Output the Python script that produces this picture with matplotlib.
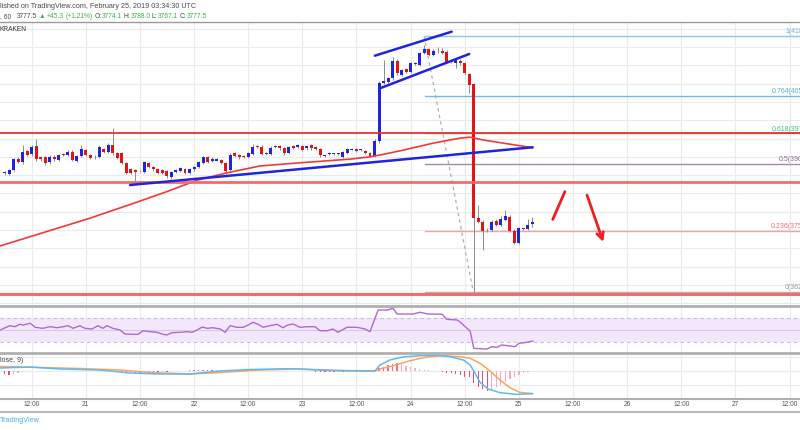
import matplotlib
matplotlib.use('Agg')
import matplotlib.pyplot as plt
from matplotlib.lines import Line2D
from matplotlib.transforms import blended_transform_factory
import numpy as np

plt.rcParams['font.family'] = ['Liberation Sans', 'DejaVu Sans']

# ---------------- data (hours relative to 21 Feb 2019 00:00 UTC, 60-min candles) ----------------
first_hour = -18
opens = [3885, 3883, 3891, 3915, 3909, 3933, 3926, 3944, 3920, 3920,
         3909, 3920, 3913, 3926, 3924, 3931, 3911, 3922, 3935, 3924,
         3920, 3920, 3937, 3931, 3946, 3928, 3928, 3907, 3894, 3891,
         3889, 3887, 3907, 3898, 3893, 3891, 3889, 3876, 3887, 3889,
         3893, 3885, 3893, 3898, 3907, 3919, 3912, 3912, 3913, 3907,
         3891, 3928, 3924, 3922, 3920, 3926, 3944, 3942, 3927, 3926,
         3942, 3944, 3939, 3929, 3944, 3941, 3944, 3939, 3945, 3942,
         3938, 3922, 3927, 3926, 3926, 3920, 3929, 3936, 3937, 3935,
         3933, 3929, 3922, 3954, 4082, 4084, 4092, 4130, 4099, 4112,
         4106, 4124, 4121, 4147, 4155, 4143, 4152, 4152, 4150, 4128,
         4126, 4130, 4125, 4101, 4079, 3786, 3778, 3759, 3760, 3780,
         3771, 3782, 3789, 3758, 3732, 3763, 3762, 3774.1]
closes = [3886, 3891, 3915, 3909, 3931, 3924, 3942, 3915, 3915, 3907,
          3920, 3915, 3924, 3924, 3931, 3913, 3922, 3938, 3924, 3918,
          3919, 3942, 3931, 3946, 3928, 3918, 3907, 3885, 3885, 3887,
          3888, 3909, 3898, 3893, 3885, 3885, 3878, 3887, 3891, 3896,
          3885, 3893, 3898, 3909, 3919, 3909, 3916, 3916, 3907, 3890,
          3925, 3922, 3919, 3919, 3928, 3942, 3941, 3926, 3928, 3939,
          3943, 3939, 3928, 3941, 3939, 3947, 3935, 3944, 3939, 3938,
          3925, 3923, 3928, 3927, 3926, 3931, 3938, 3937, 3933, 3935,
          3929, 3922, 3954, 4081, 4087, 4092, 4130, 4103, 4110, 4106,
          4125, 4125, 4147, 4155, 4143, 4152, 4151, 4148, 4128, 4132,
          4133, 4125, 4103, 4077, 3787, 3778, 3758, 3760, 3778, 3771,
          3783, 3791, 3758, 3732, 3764, 3762, 3771, 3777.5]
highs = [3888, 3893, 3918, 3920, 3946, 3936, 3945, 3959, 3922, 3922,
         3924, 3923, 3927, 3929, 3934, 3934, 3925, 3946, 3938, 3927,
         3923, 3945, 3940, 3950, 3983, 3931, 3930, 3909, 3896, 3893,
         3891, 3911, 3909, 3900, 3895, 3893, 3891, 3889, 3893, 3898,
         3895, 3895, 3901, 3911, 3922, 3922, 3919, 3918, 3916, 3909,
         3928, 3931, 3927, 3924, 3931, 3948, 3947, 3946, 3931, 3943,
         3946, 3947, 3941, 3944, 3947, 3949, 3947, 3946, 3948, 3944,
         3940, 3925, 3930, 3929, 3929, 3933, 3940, 3940, 3939, 3938,
         3936, 3931, 3958, 4085, 4132, 4095, 4138, 4133, 4113, 4114,
         4128, 4128, 4150, 4165, 4158, 4155, 4160, 4158, 4153, 4135,
         4136, 4133, 4127, 4104, 4082, 3815, 3781, 3765, 3782, 3783,
         3791, 3804, 3792, 3762, 3766, 3765, 3784, 3788.0]
lows = [3880, 3881, 3889, 3906, 3905, 3921, 3922, 3912, 3911, 3903,
        3905, 3912, 3910, 3921, 3921, 3910, 3908, 3919, 3921, 3915,
        3916, 3917, 3928, 3928, 3925, 3915, 3904, 3882, 3882, 3863,
        3886, 3884, 3895, 3890, 3882, 3882, 3874, 3872, 3885, 3887,
        3882, 3883, 3890, 3896, 3905, 3906, 3909, 3910, 3904, 3882,
        3888, 3919, 3916, 3917, 3918, 3924, 3939, 3924, 3924, 3924,
        3939, 3936, 3925, 3927, 3937, 3939, 3932, 3936, 3936, 3935,
        3920, 3919, 3925, 3924, 3924, 3917, 3927, 3934, 3931, 3932,
        3927, 3920, 3919, 3950, 4080, 4082, 4088, 4100, 4096, 4103,
        4103, 4121, 4118, 4144, 4140, 4140, 4148, 4145, 4125, 4125,
        4115, 4122, 4100, 4060, 3625, 3775, 3716, 3755, 3757, 3768,
        3768, 3779, 3755, 3730, 3730, 3760, 3759, 3767.1]

# moving average (red curve) read at sample hours
ma_hours = [-19, 1, 10.5, 18, 24.7, 31.3, 38.6, 47.5, 58.6, 63, 65.2, 69.6, 77, 83, 85.2, 88, 99]
ma_vals = [3725, 3786, 3818, 3844, 3869, 3885, 3900, 3907, 3915, 3920, 3924, 3933, 3950, 3961, 3963, 3957, 3940]

# horizontal support / resistance levels
red_levels = [3971.5, 3864, 3620]

# fibonacci retracement
fib_start_hour = 75.2
fib_ratios = [1, 0.764, 0.618, 0.5, 0.236, 0]
fib_prices = [4185.0, 4052.8, 3971.1, 3905.0, 3757.2, 3625.0]
fib_labels = ['1(4185.0)', '0.764(4052.8)', '0.618(3971.1)', '0.5(3905.0)', '0.236(3757.2)', '0(3625.0)']
fib_line_colors = ['#86c8ec', '#6cbde9', '#5cc48a', '#a48aa4', '#f3a3a8', '#b4b4b4']
fib_text_colors = ['#6ab4e0', '#5aaedf', '#3fbf78', '#8c6e8c', '#ee6f78', '#9a9a9a']
fib_diag_hours = [75.0, 85.8]
fib_diag_prices = [4184, 3629]

# trend lines (blue)
trend_lines = [([9.84, 99.05], [3858.4, 3940.9]),
               ([64.09, 81.1], [4141.3, 4193.8]),
               ([65.2, 85.0], [4069.9, 4145.0])]

# red arrows
up_stroke = ([103.5, 106.2], [3783, 3844])
down_arrow = ([110.9, 114.9], [3842, 3728])

# RSI (14)
rsi_hours = [-19, -16.8, -15.7, -14.6, -13.9, -12.3, -11.2, -9.5, -7.9, -6.4, -5, -3.9, -2.8, -1.3,
             -0.2, 1.4, 2.7, 3.8, 4.7, 6, 7.6, 8.7, 10.3, 11.6, 12.7, 14.2, 15.8, 17.1, 18, 19.1,
             20.9, 22.4, 23.6, 24.7, 25.8, 26.9, 28.2, 29.8, 30.9, 32, 33.5, 34.9, 36, 37.1, 38.2,
             39.3, 40.8, 42.4, 43.7, 44.8, 45.9, 47.5, 49, 50.8, 51.9, 53.5, 54.8, 55.9, 57.9, 60.1,
             61.9, 63, 64.8, 66.8, 68.1, 69, 72.5, 74.1, 75.8, 79, 80, 82.3, 82.9, 84.5, 85.2, 86,
             88.9, 90, 91.1, 92.2, 93.6, 95.1, 96, 97.8, 99.1]
rsi_vals = [50.5, 57.7, 56, 60, 58.8, 61.7, 55, 53.3, 56, 54.3, 56, 57.7, 53.3, 57.7,
            53.3, 52.2, 57.7, 53.3, 57.7, 53.3, 50.5, 43.8, 43.3, 43.3, 49.3, 47.7, 46.7, 43.3, 42.2, 46,
            46.7, 47.7, 46.7, 50.5, 55.5, 53.3, 54.3, 52.2, 46.7, 57.7, 55, 55, 58.8, 63.3, 60,
            55, 57.7, 60, 54.3, 58.8, 60.5, 55, 56, 56, 49.3, 49.3, 52.2, 46.7, 55, 55,
            52.2, 47.7, 83.8, 83.8, 86.7, 77.2, 77.2, 80, 77.2, 76.7, 68.3, 67.2, 64.3, 53.3, 48.8, 20,
            18.8, 22.7, 21.7, 25.5, 24.3, 22.7, 28.3, 30, 32.2]

# MACD (12, 26, close, 9)
macd_hours = [-19, -12.3, -5.7, 3.2, 9.8, 16.5, 23.1, 29.8, 36.4, 45.3, 54.1, 63, 64.1,
              65.2, 67.4, 70.3, 74.1, 77.8, 80.7, 83.7, 85.2, 86.3, 87.4, 89.2, 91.8, 95.5, 99]
macd_vals = [9, 12, 6, 3, -6, -9, -9, 0, 4.5, 7, 1.5, 0, 0,
             18, 33, 42, 46, 47, 43, 33, 18, -7, -34, -54, -65, -70, -68]
signal_hours = [-19, -10.1, -1.3, 7.6, 14.2, 23.1, 29.8, 38.6, 47.5, 56.3, 64.1, 65.2, 68.2,
                71.9, 75.6, 79.2, 82.9, 85.2, 87.4, 89.6, 91.8, 94, 96.2, 99]
signal_vals = [13.5, 10.5, 7.5, 3, -4.5, -9, -4.5, 3, 6, 1.5, 0, 6, 16,
               31, 42, 46, 43, 38, 23, 0, -27, -50, -64, -68]
hist_vals = [-9, -12, -9, -6,
             -3, -1, 0, 1, 1, 1, 0, 0, -1, 0, 0, -1, 0, 0,
             0, -1, -1, 0, 0, -1, -1, -2, -3, -3,
             -4, -5, -5, -4, -3, -3, -3, -2, -2, -1, 0, 1, 1, 2, 2,
             2, 3, 3, 3, 2, 2, 2, 3, 3, 3, 2, 2, 2, 1, 1, 1,
             1, 1, 0, 0, 0, 0, -1, -1, -1, -1, -2, -3, -3, -4, -4, -3, -3, -3, -2, -2, -2, -2, -1, 2,
             8, 13, 18, 21, 23, 21, 16, 11, 8, 6, 4, 2, 1, 0, -2, -5, -7, -9, -12, -17,
             -19, -37, -47, -54, -59, -57, -47, -42, -32, -24, -17, -12, -7, -4, -1]

tick_hours = [-12, 0, 12, 24, 36, 48, 60, 72, 84, 96, 108, 120, 132, 144, 156]
tick_labels = ['12:00', '21', '12:00', '22', '12:00', '23', '12:00', '24', '12:00', '25',
               '12:00', '26', '12:00', '27', '12:00']

header_line1 = 'lished on TradingView.com, February 25, 2019 03:34:30 UTC'
header_pieces = [(', 60', 'dark'), ('3777.5', 'dark'), ('\u25b2', 'green'), ('+45.3', 'green'),
                 ('(+1.21%)', 'green'), ('O:', 'dark'), ('3774.1', 'green'), ('H:', 'dark'),
                 ('3788.0', 'green'), ('L:', 'dark'), ('3767.1', 'green'), ('C:', 'dark'),
                 ('3777.5', 'green')]

# ---------------- layout helpers ----------------
W, H = 800, 430
fig = plt.figure(figsize=(W / 100, H / 100), dpi=100)
fig.patch.set_facecolor('white')


def fy(py):
    return 1 - py / H


def fx(px):
    return px / W


X0, X1 = -19.0, 158.3


def make_ax(top, bottom, ylim):
    ax = fig.add_axes([0, fy(bottom), 1, (bottom - top) / H])
    ax.set_xlim(X0, X1)
    ax.set_ylim(*ylim)
    for s in ax.spines.values():
        s.set_visible(False)
    ax.set_xticks([])
    ax.set_yticks([])
    ax.patch.set_alpha(0)
    for t in tick_hours:
        ax.axvline(t, color='#ebebeb', lw=0.8, zorder=0)
    return ax


def price_at(py):
    return 4263.1 - 2.1875 * py


GRID = '#ebebeb'
BLUE = '#1f24e0'
RED = '#e51414'

# ---------------- price panel ----------------
axp = make_ax(22, 305, (price_at(305), price_at(22)))
for g in np.arange(3600, 4240, 40):
    axp.axhline(g, color=GRID, lw=0.8, zorder=0)

hours = np.arange(first_hour, first_hour + len(opens))
o = np.array(opens, float)
c = np.array(closes, float)
hi = np.array(highs, float)
lo = np.array(lows, float)
up = c >= o
cols = np.where(up, BLUE, RED)
axp.vlines(hours, lo, hi, color='#8c8c8c', lw=0.7, zorder=3)
bb = np.minimum(o, c)
bh = np.maximum(np.abs(c - o), 1.6)
axp.bar(hours, bh, bottom=bb, width=0.66, color=cols, lw=0, zorder=4)

axp.plot(ma_hours, ma_vals, color='#f03a3a', lw=1.2, zorder=5)

# fib
for p, lc in zip(fib_prices, fib_line_colors):
    axp.plot([fib_start_hour, X1 + 5], [p, p], color=lc, lw=1.0, zorder=2)
axp.plot(fib_diag_hours, fib_diag_prices, color='#a8a8a8', lw=0.8, ls=(0, (3, 3)), zorder=2)

# red levels
axp.axhline(red_levels[0], color='#f03030', lw=1.3, zorder=6)
axp.axhline(red_levels[1], color='#f56a6a', lw=2.0, zorder=6)
axp.axhline(red_levels[2], color='#f56a6a', lw=2.2, zorder=6)

for xs, ys in trend_lines:
    axp.plot(xs, ys, color=BLUE, lw=1.8, zorder=7, solid_capstyle='round')

axp.plot(*up_stroke, color='#f01e1e', lw=2.0, zorder=7, solid_capstyle='round')
axp.annotate('', xy=(down_arrow[0][1], down_arrow[1][1]), xytext=(down_arrow[0][0], down_arrow[1][0]),
             arrowprops=dict(arrowstyle='->', color='#f01e1e', lw=2.0, mutation_scale=12), zorder=7)

trans_fib = blended_transform_factory(fig.transFigure, axp.transData)
for p, lab, tc in zip(fib_prices, fib_labels, fib_text_colors):
    axp.text(fx(815), p + 2.0, lab, transform=trans_fib, ha='right', va='bottom',
             fontsize=5.0, color=tc, clip_on=False, zorder=8)

# ---------------- RSI panel ----------------
rsi_lo = 50 - (352 - 330.3) / 0.6
rsi_hi = 50 + (330.3 - 306) / 0.6
axr = make_ax(306, 352, (rsi_lo, rsi_hi))
axr.axhspan(30, 70, color='#f3e7fd', zorder=0.5, lw=0)
axr.axhline(70, color='#cbb8dc', lw=0.8, ls=(0, (3, 3)), zorder=1)
axr.axhline(30, color='#cbb8dc', lw=0.8, ls=(0, (3, 3)), zorder=1)
axr.axhline(50, color='#d4cedb', lw=0.8, zorder=1)
axr.plot(rsi_hours, rsi_vals, color='#b466d2', lw=1.0, zorder=3)

# ---------------- MACD panel ----------------
axm = make_ax(353, 398, ((371 - 398) * 3, (371 - 353) * 3))
for g in (42, 0, -42):
    axm.axhline(g, color=GRID, lw=0.8, zorder=0)
hv = np.array(hist_vals, float)
prev = np.concatenate([[hv[0]], hv[:-1]])
hcols = []
for v, pv in zip(hv, prev):
    if v >= 0:
        hcols.append('#f06a86' if v >= pv else '#f7aebf')
    else:
        hcols.append('#e94b7e' if v <= pv else '#f6a9c6')
axm.bar(hours, hv, width=0.28, color=hcols, lw=0, zorder=2)
axm.plot(signal_hours, signal_vals, color='#fca55a', lw=1.1, zorder=3)
axm.plot(macd_hours, macd_vals, color='#5fb9f2', lw=1.1, zorder=4)
fig.text(fx(0), fy(361), 'lose, 9)', fontsize=5.0, color='#444444', ha='left', va='center')

# ---------------- separators ----------------
for py, lw, colr in [(21.5, 1.0, '#9c9c9c'), (305.5, 2.0, '#b0b0b0'), (352.5, 2.0, '#b0b0b0'),
                     (398.5, 1.5, '#b0b0b0'), (411.5, 1.5, '#b8b8b8')]:
    fig.add_artist(Line2D([0, 1], [fy(py), fy(py)], transform=fig.transFigure, color=colr, lw=lw))

# ---------------- time axis labels ----------------
trans_t = blended_transform_factory(axm.transData, fig.transFigure)
for t, lab in zip(tick_hours, tick_labels):
    axm.text(t, fy(405), lab, transform=trans_t, ha='center', va='center', fontsize=4.8,
             color='#555555', clip_on=False)

# ---------------- header ----------------
fig.text(fx(0), fy(6), header_line1, fontsize=5.2, color='#4a4a4a', ha='left', va='center')
GREEN = '#3cb24a'
DARK = '#4a4a4a'
renderer = fig.canvas.get_renderer()
cur = 0.0
for i, (s, kind) in enumerate(header_pieces):
    t = fig.text(fx(cur), fy(16.5), s, fontsize=4.8, color=GREEN if kind == 'green' else DARK,
                 ha='left', va='center')
    ext = t.get_window_extent(renderer=renderer)
    if i == 0:
        gap = 6.0
    elif s.endswith(':'):
        gap = 0.3
    else:
        gap = 1.6
    cur += ext.width + gap
fig.text(fx(0), fy(29.5), 'KRAKEN', fontsize=4.8, color='#333333', ha='left', va='center')
fig.text(fx(0), fy(421), 'TradingView', fontsize=5.2, color='#48aee8', ha='left', va='center')

fig.savefig('out.png', dpi=100, facecolor='white')
